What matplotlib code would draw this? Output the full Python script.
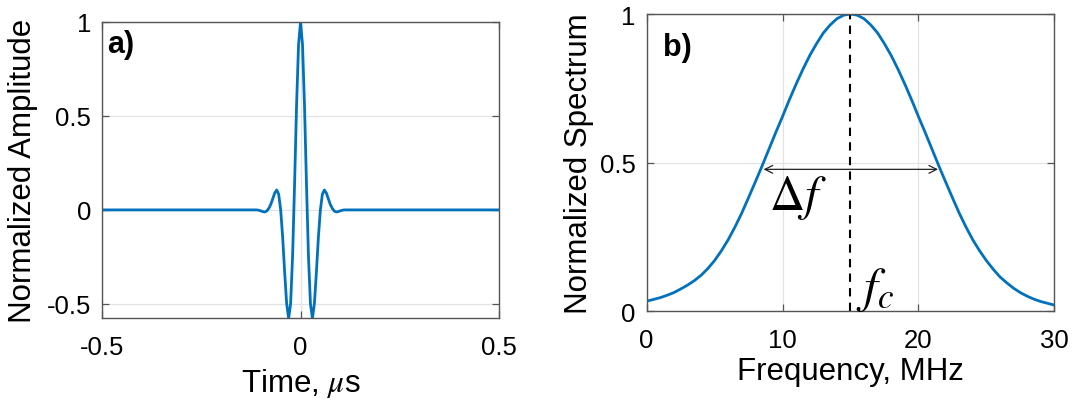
"""Ultrasonic pulse in time and its normalized spectrum."""

import matplotlib

matplotlib.use("Agg", force=True)
import matplotlib.pyplot as plt
import numpy as np

# time-domain pulse (time in microseconds)
time_us = [
    -0.5, -0.11, -0.105, -0.1, -0.095, -0.09, -0.085, -0.08, -0.075, -0.07, -0.065,
    -0.06, -0.055, -0.05, -0.045, -0.04, -0.035, -0.03, -0.025, -0.02, -0.015,
    -0.01, -0.005, 0.0, 0.005, 0.01, 0.015, 0.02, 0.025, 0.03, 0.035, 0.04,
    0.045, 0.05, 0.055, 0.06, 0.065, 0.07, 0.075, 0.08, 0.085, 0.09, 0.095,
    0.1, 0.105, 0.11, 0.5,
]
amplitude = [
    0.0, 0.0, -0.002, -0.005, -0.009, -0.011, -0.006, 0.008, 0.029, 0.059, 0.090,
    0.106, 0.083, 0.0, -0.145, -0.330, -0.497, -0.578, -0.500, -0.248, 0.137,
    0.556, 0.879, 1.0, 0.879, 0.556, 0.137, -0.248, -0.500, -0.578, -0.497, -0.330,
    -0.145, 0.0, 0.083, 0.106, 0.090, 0.059, 0.029, 0.008, -0.006, -0.011, -0.009,
    -0.005, -0.002, 0.0, 0.0,
]

# spectrum, sampled every 0.5 MHz from 0 to 30 MHz
freq_mhz = np.arange(0, 30.5, 0.5)
spectrum = [
    0.033, 0.039, 0.045, 0.053, 0.062, 0.074, 0.087, 0.102, 0.120, 0.143,
    0.170, 0.203, 0.240, 0.283, 0.330, 0.382, 0.435, 0.489, 0.545, 0.601,
    0.655, 0.711, 0.764, 0.814, 0.860, 0.900, 0.936, 0.963, 0.984, 0.996,
    1.000,
    0.996, 0.984, 0.963, 0.936, 0.900, 0.860, 0.814, 0.764, 0.711, 0.655,
    0.601, 0.545, 0.489, 0.435, 0.382, 0.330, 0.283, 0.240, 0.203, 0.170,
    0.141, 0.115, 0.095, 0.077, 0.062, 0.050, 0.040, 0.032, 0.026, 0.020,
]
f_center = 15.0
half_max_lo, half_max_hi = 8.6, 21.45

LINE = "#0072BD"
EDGE = "#555555"

plt.rcParams["font.family"] = ["Liberation Sans", "DejaVu Sans"]
plt.rcParams["mathtext.fontset"] = "stix"

fig = plt.figure(figsize=(10.76, 4.10), dpi=100)
ax_a = fig.add_axes([0.0948, 0.222, 0.369, 0.722])
ax_b = fig.add_axes([0.601, 0.239, 0.3788, 0.7244])

for ax in (ax_a, ax_b):
    ax.grid(True, color="#e3e3e3", lw=0.9)
    ax.set_axisbelow(True)
    for sp in ax.spines.values():
        sp.set_color(EDGE)
        sp.set_linewidth(1.0)
    ax.tick_params(direction="in", length=5, width=0.9, color=EDGE,
                   top=True, right=True, labelsize=18.5, pad=8)
    ax.tick_params(axis="x", pad=12)

# a) pulse
ax_a.plot(time_us, amplitude, color=LINE, lw=2.0)
ax_a.set_xlim(-0.5, 0.5)
ax_a.set_ylim(-0.575, 1.0)
ax_a.set_xticks([-0.5, 0, 0.5])
ax_a.set_xticklabels(["-0.5", "0", "0.5"])
ax_a.set_yticks([-0.5, 0, 0.5, 1])
ax_a.set_yticklabels(["-0.5", "0", "0.5", "1"])
ax_a.set_xlabel(r"Time, $\mu$s", fontsize=22.5, labelpad=5)
ax_a.set_ylabel("Normalized Amplitude", fontsize=22.5, labelpad=6)
ax_a.text(0.012, 0.975, "a)", transform=ax_a.transAxes, fontsize=22,
          fontweight="bold", ha="left", va="top")

# b) spectrum
ax_b.plot(freq_mhz, spectrum, color=LINE, lw=2.0)
ax_b.axvline(f_center, color="black", lw=1.5, ls=(0, (4, 3)))
ax_b.annotate("", xy=(half_max_lo, 0.477), xytext=(half_max_hi, 0.477),
              arrowprops=dict(arrowstyle="<->", color="#222222", lw=0.9,
                              shrinkA=0, shrinkB=0, mutation_scale=14))
ax_b.text(9.0, 0.345, r"$\Delta f$", fontsize=35, ha="left", va="baseline")
ax_b.text(15.4, 0.035, r"$f_c$", fontsize=36, ha="left", va="baseline")
ax_b.set_xlim(0, 30)
ax_b.set_ylim(0, 1)
ax_b.set_xticks([0, 10, 20, 30])
ax_b.set_yticks([0, 0.5, 1])
ax_b.set_yticklabels(["0", "0.5", "1"])
ax_b.set_xlabel("Frequency, MHz", fontsize=22.5, labelpad=3)
ax_b.set_ylabel("Normalized Spectrum", fontsize=22.5, labelpad=4)
ax_b.text(0.04, 0.94, "b)", transform=ax_b.transAxes, fontsize=22,
          fontweight="bold", ha="left", va="top")

fig.savefig("out.png", dpi=100)
